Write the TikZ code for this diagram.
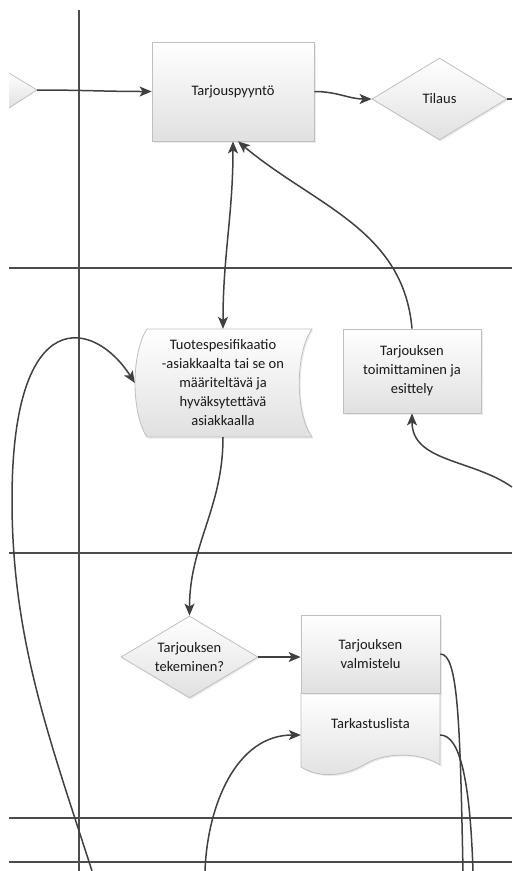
\documentclass[tikz,border=0pt]{standalone}
\usepackage{fontspec}
\setmainfont{Carlito}
\usetikzlibrary{arrows.meta,shapes.geometric,backgrounds,shadows}
\begin{document}
\begin{tikzpicture}[x=1pt,y=-1pt,>={Stealth[length=12pt,width=10pt,inset=3pt]},
    lane/.style={draw=black!70,line width=1.2pt},
    flow/.style={draw=black!75,line width=1.5pt},
    txt/.style={font=\fontsize{14.5}{19}\selectfont,align=center,text=black!90,inner sep=0pt},
    fillgrad/.style={draw=black!25,line width=0.8pt,top color=white,bottom color=black!12,
        drop shadow={opacity=0.15,shadow xshift=1.5pt,shadow yshift=-1.5pt}},
    box/.style={txt,fillgrad}]
\useasboundingbox (0,0) rectangle (512,871);
% lanes
\draw[lane](79,10)--(79,871);
\foreach \y in {268,553,818,862} \draw[lane](9,\y)--(512,\y);
% shape cut off at the left
\shade[top color=white,bottom color=black!12](9,73)--(37,90)--(9,108)--cycle;
\draw[draw=black!25,line width=0.8pt](9,73)--(37,90)--(9,108);
\coordinate (start) at (37,90);
\coordinate (exitA) at (512,99);
\coordinate (loopA) at (92,871);
\coordinate (loopB) at (205,871);
\coordinate (exitB) at (463,871);
\coordinate (exitC) at (473,871);
\coordinate (backR) at (512,487);
% nodes
\node[box,minimum width=162pt,minimum height=99pt] (tarjous) at (233,91.5) {Tarjouspyyntö};
\node[box,diamond,aspect=1.65,minimum width=135pt,minimum height=82pt] (tilaus) at (439.5,99) {Tilaus};
\node[txt,minimum width=176pt,minimum height=108pt] (tuote) at (223,383)
    {Tuotespesifikaatio\\-asiakkaalta tai se on\\määriteltävä ja\\hyväksytettävä\\asiakkaalla};
\node[box,minimum width=138pt,minimum height=84pt] (toimitus) at (412,371) {Tarjouksen\\toimittaminen ja\\esittely};
\node[box,diamond,aspect=1.67,minimum width=137pt,minimum height=82pt] (tekem) at (189.5,657) {Tarjouksen\\tekeminen?};
\node[txt,minimum width=139pt,minimum height=62pt] (tark) at (370.5,724) {Tarkastuslista};
\node[box,minimum width=139pt,minimum height=78pt] (valm) at (370.5,654) {Tarjouksen\\valmistelu};
\begin{scope}[on background layer]
\path[fillgrad,shift={(tuote.center)}](-76,-54)--(89,-54)
    .. controls (72,-30) and (72,30) .. (89,54)--(-76,54)
    .. controls (-92,30) and (-92,-30) .. (-76,-54)--cycle;
\path[fillgrad,shift={(tark.center)}](-69.5,-31)--(69.5,-31)--(69.5,41)
    .. controls (50,28) and (15,28) .. (-5,40)
    .. controls (-25,52) and (-50,55) .. (-69.5,43)--cycle;
\end{scope}
% connectors
\draw[flow,->](start) to[out=0,in=180] (tarjous.west);
\draw[flow,->](tarjous.east) to[out=0,in=180] (tilaus.west);
\draw[flow](tilaus.east)--(exitA);
\draw[flow,<->](tuote.north) to[out=90,in=-90] (tarjous.south);
\draw[flow,->](toimitus.north) to[out=95,in=-40] ([xshift=5pt]tarjous.south);
\draw[flow,->](loopA) .. controls (50,740) and (12,640) .. (12,500)
    .. controls (12,300) and (95,320) .. (tuote.west);
\draw[flow,->](tuote.south) to[out=-90,in=90] (tekem.north);
\draw[flow,->](tekem.east)--(tekem.east -| valm.west);
\draw[flow,->](loopB) to[out=88,in=180] ([yshift=-11pt]tark.west);
\draw[flow](valm.east) .. controls (458,654) and (460,720) .. (exitB);
\draw[flow]([yshift=-11pt]tark.east) .. controls (460,735) and (470,780) .. (exitC);
\draw[flow,->](backR) to[out=145,in=-90] (toimitus.south);
\end{tikzpicture}
\end{document}
